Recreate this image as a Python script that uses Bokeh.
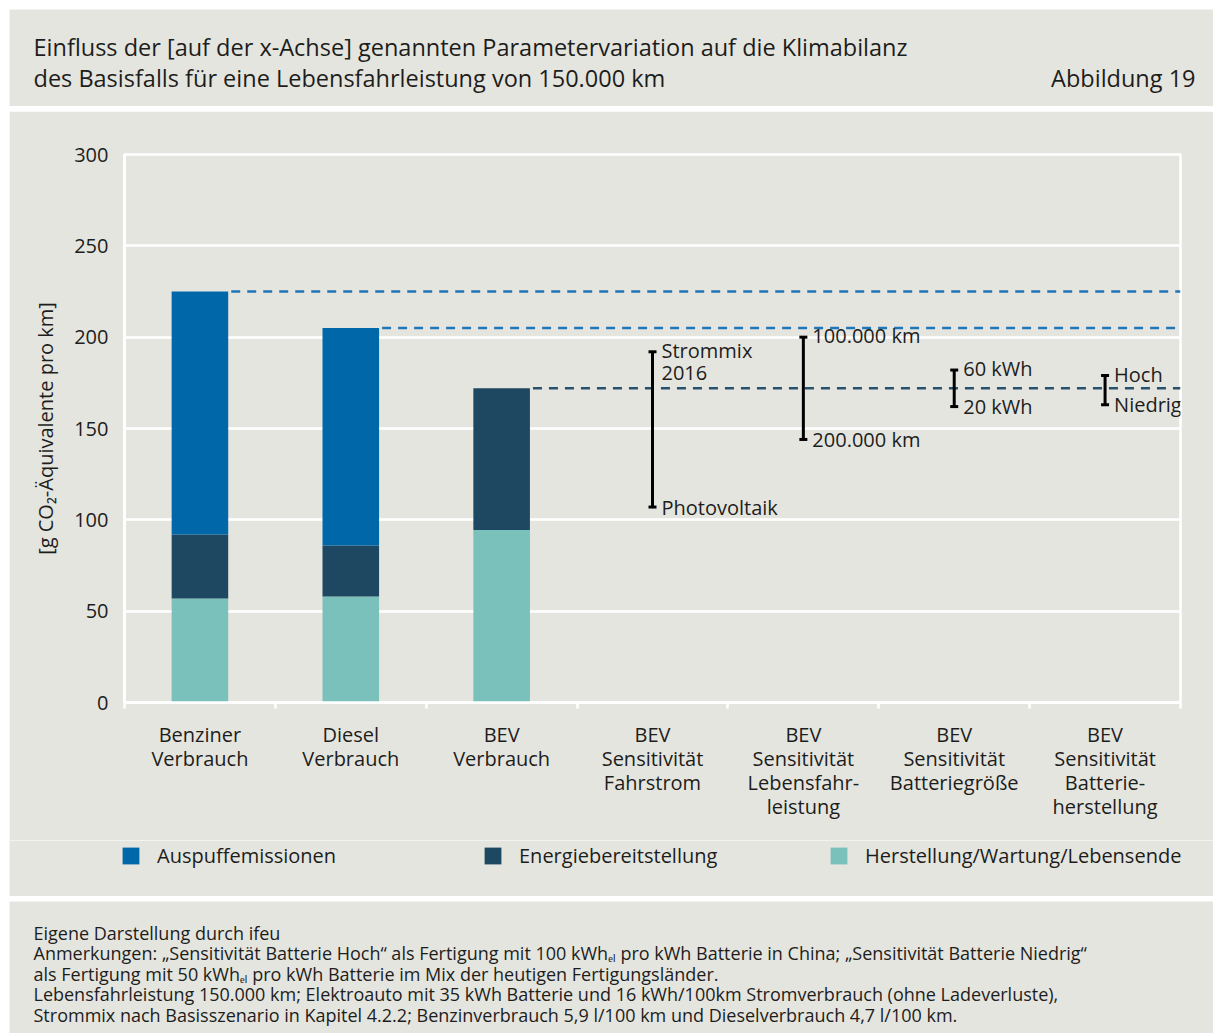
import numpy as np
from bokeh.plotting import figure
from bokeh.models import Range1d, FixedTicker, Legend, LegendItem
from bokeh.layouts import column
from bokeh.embed import file_html
from bokeh.resources import INLINE
from bokeh.core.properties import value

# ---------------- data ----------------
categories = ["Benziner\nVerbrauch", "Diesel\nVerbrauch", "BEV\nVerbrauch",
              "BEV\nSensitivität\nFahrstrom", "BEV\nSensitivität\nLebensfahr-\nleistung",
              "BEV\nSensitivität\nBatteriegröße", "BEV\nSensitivität\nBatterie-\nherstellung"]
series_names = ["Auspuffemissionen", "Energiebereitstellung", "Herstellung/Wartung/Lebensende"]
auspuff = [133.0, 119.0, 0.0]
energie = [35.0, 28.0, 77.5]
herstellung = [57.0, 58.0, 94.5]
sens_upper = [192.0, 200.0, 182.0, 179.0]
sens_lower = [107.0, 144.0, 162.0, 163.0]
sens_upper_labels = ["Strommix\n2016", "100.000 km", "60 kWh", "Hoch"]
sens_lower_labels = ["Photovoltaik", "200.000 km", "20 kWh", "Niedrig"]
y_ticks = [0, 50, 100, 150, 200, 250, 300]

title_lines = ["Einfluss der [auf der x-Achse] genannten Parametervariation auf die Klimabilanz",
               "des Basisfalls für eine Lebensfahrleistung von 150.000 km"]
figure_label = "Abbildung 19"
footnote_lines = [
    "Eigene Darstellung durch ifeu",
    "Anmerkungen: „Sensitivität Batterie Hoch“ als Fertigung mit 100 kWhₑₗ pro kWh Batterie in China; „Sensitivität Batterie Niedrig“",
    "als Fertigung mit 50 kWhₑₗ pro kWh Batterie im Mix der heutigen Fertigungsländer.",
    "Lebensfahrleistung 150.000 km; Elektroauto mit 35 kWh Batterie und 16 kWh/100km Stromverbrauch (ohne Ladeverluste),",
    "Strommix nach Basisszenario in Kapitel 4.2.2; Benzinverbrauch 5,9 l/100 km und Dieselverbrauch 4,7 l/100 km.",
]

# ---------------- style ----------------
FONT = "Open Sans"
BG = "#E5E5E0"
TXT = "#1D1D1B"
C_AUS = "#0068A9"
C_ENE = "#1E4862"
C_HER = "#7AC0BB"
colors = [C_AUS, C_ENE, C_HER]
dash_colors = ["#1F76B6", "#1F76B6", "#2B506A"]
W = 1204
FS = "20px"

# ---------------- title panel ----------------
tf = figure(width=W, height=97, x_range=Range1d(9, 9 + W), y_range=Range1d(106, 9),
            output_backend="svg", toolbar_location=None, min_border=0)
tf.axis.visible = False
tf.grid.visible = False
tf.outline_line_color = None
tf.background_fill_color = BG
tf.border_fill_color = BG
tf.text(x=[33, 33], y=[46, 77], text=title_lines, text_font=value(FONT),
        text_font_size="23.5px", text_color=TXT, text_baseline="middle", text_align="left")
tf.text(x=[1195], y=[77], text=[figure_label], text_font=value(FONT),
        text_font_size="23.5px", text_color=TXT, text_baseline="middle", text_align="right")

# ---------------- chart ----------------
n = len(categories)
centers = np.arange(n) + 0.5
bw = 0.375

p = figure(width=W, height=729, x_range=Range1d(0, n), y_range=Range1d(0, 300),
           output_backend="svg", toolbar_location=None,
           min_border_left=115, min_border_right=33, min_border_top=43, min_border_bottom=138)
p.background_fill_color = BG
p.border_fill_color = BG
p.outline_line_color = "white"
p.outline_line_width = 2.5

xb = centers[:3]
h = np.array(herstellung)
e = np.array(energie)
a = np.array(auspuff)
p.vbar(x=xb, bottom=0, top=h, width=bw, color=C_HER, line_color=None)
p.vbar(x=xb, bottom=h, top=h + e, width=bw, color=C_ENE, line_color=None)
p.vbar(x=xb, bottom=h + e, top=h + e + a, width=bw, color=C_AUS, line_color=None)

totals = h + e + a
p.segment(x0=xb + bw / 2 + 0.02, y0=totals, x1=[n] * 3, y1=totals,
          line_color=dash_colors, line_width=2.5, line_dash="9 7")

xs = centers[3:]
p.segment(x0=xs, y0=sens_lower, x1=xs, y1=sens_upper, line_color="black", line_width=3)
p.scatter(x=np.concatenate([xs, xs]), y=sens_upper + sens_lower, marker="dash",
          size=8, line_color="black", line_width=3)
p.text(x=xs, y=sens_upper, text=sens_upper_labels, x_offset=9, y_offset=-15,
       text_font=value(FONT), text_font_size=FS, text_color=TXT,
       text_baseline="top", text_align="left", text_line_height=0.81)
p.text(x=xs, y=sens_lower, text=sens_lower_labels, x_offset=9,
       text_font=value(FONT), text_font_size=FS, text_color=TXT,
       text_baseline="middle", text_align="left")

# axes
p.xgrid.visible = False
p.ygrid.grid_line_color = "white"
p.ygrid.grid_line_width = 2.5
p.ygrid.ticker = FixedTicker(ticks=y_ticks)

xa = p.xaxis[0]
xa.ticker = FixedTicker(ticks=list(centers), minor_ticks=list(range(n + 1)))
xa.major_label_overrides = {float(c): lab for c, lab in zip(centers, categories)}
xa.major_tick_line_color = None
xa.major_tick_out = 0
xa.major_tick_in = 0
xa.minor_tick_line_color = "white"
xa.minor_tick_line_width = 2.5
xa.minor_tick_out = 6
xa.minor_tick_in = 0
xa.axis_line_color = "white"
xa.axis_line_width = 2.5
xa.major_label_standoff = 12
xa.major_label_text_font = FONT
xa.major_label_text_font_size = FS
xa.major_label_text_color = TXT
xa.major_label_text_line_height = 0.9

ya = p.yaxis[0]
ya.ticker = FixedTicker(ticks=y_ticks)
ya.major_tick_line_color = None
ya.minor_tick_line_color = None
ya.major_tick_out = 0
ya.major_tick_in = 0
ya.axis_line_color = "white"
ya.axis_line_width = 2.5
ya.major_label_standoff = 16
ya.major_label_text_font = FONT
ya.major_label_text_font_size = FS
ya.major_label_text_color = TXT
ya.axis_label = "[g CO₂-Äquivalente pro km]"
ya.axis_label_text_font = FONT
ya.axis_label_text_font_size = FS
ya.axis_label_text_font_style = "normal"
ya.axis_label_text_color = TXT
ya.axis_label_standoff = 12

# ---------------- legend panel ----------------
lp = figure(width=W, height=56, x_range=Range1d(0, 1), y_range=Range1d(0, 1),
            output_backend="svg", toolbar_location=None, min_border=0)
lp.axis.visible = False
lp.grid.visible = False
lp.outline_line_color = None
lp.background_fill_color = BG
lp.border_fill_color = BG
legend_x = [111, 473, 819]
for name, col, lx in zip(series_names, colors, legend_x):
    # zero-size bar: only serves as the legend swatch's glyph
    r = lp.vbar(x=[0.5], bottom=[0.5], top=[0.5], width=0.0, color=col, line_color=None)
    lg = Legend(items=[LegendItem(label=name, renderers=[r])], location=(lx, 27),
                orientation="horizontal", background_fill_alpha=0, border_line_color=None,
                padding=0, margin=0, glyph_width=21, glyph_height=21, label_standoff=16,
                label_text_font=FONT, label_text_font_size=FS, label_text_color=TXT)
    lp.add_layout(lg)

# ---------------- footnote panel ----------------
ff = figure(width=W, height=132, x_range=Range1d(9, 9 + W), y_range=Range1d(1033, 901),
            output_backend="svg", toolbar_location=None, min_border=0)
ff.axis.visible = False
ff.grid.visible = False
ff.outline_line_color = None
ff.background_fill_color = BG
ff.border_fill_color = BG
ff.text(x=[33], y=[920], text=["\n".join(footnote_lines)], text_font=value(FONT),
        text_font_size="18px", text_color=TXT, text_baseline="top", text_align="left",
        text_line_height=0.857)

layout = column(tf, column(p, column(lp), spacing=0), ff, spacing=5, margin=(9, 0, 0, 9))

with open("out.html", "w") as f:
    f.write(file_html(layout, INLINE))
